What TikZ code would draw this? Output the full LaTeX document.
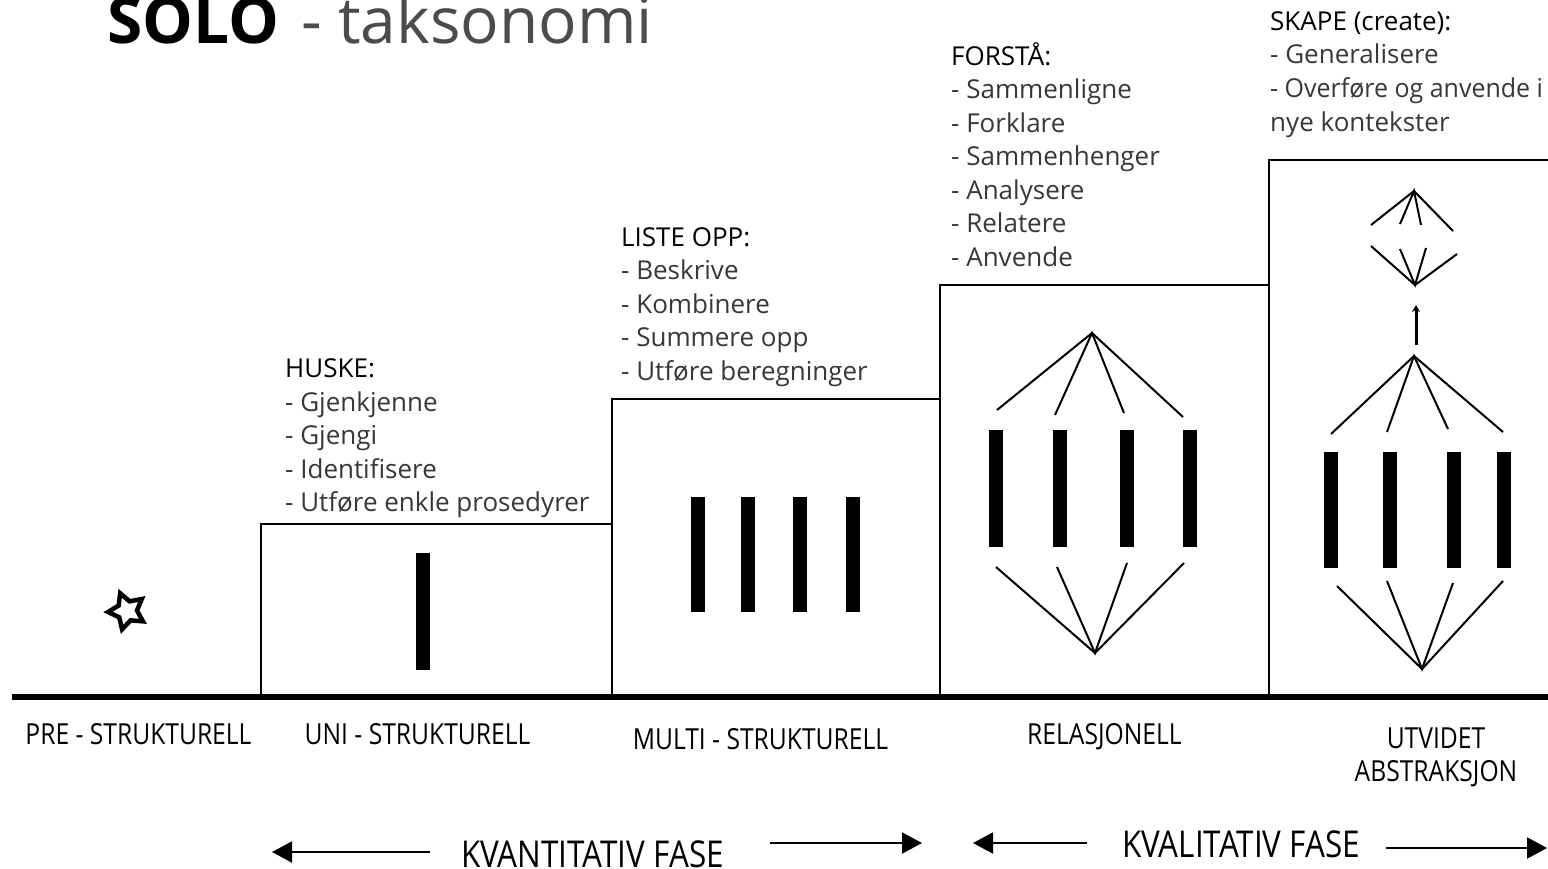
\documentclass[tikz,border=0pt]{standalone}
\usepackage{fontspec}
\setmainfont{Open Sans}
\newfontfamily\solocond[FakeStretch=0.85]{Open Sans}
\newfontfamily\soloslight[FakeStretch=0.96]{Open Sans}
\usetikzlibrary{arrows.meta,shapes.geometric}
\newcommand\soloitemfont{\fontsize{26}{31}\selectfont}
\newcommand\sololabfont{\solocond\fontsize{29}{33}\selectfont}
\newcommand\solofasefont{\solocond\fontsize{37}{42}\selectfont}
\tikzset{
  item/.style={anchor=base west, inner sep=0pt, font=\soloitemfont, text=black!78},
  head/.style={item, text=black},
  lab/.style={anchor=base, inner sep=0pt, font=\sololabfont, text=black},
  fase/.style={anchor=base, inner sep=0pt, font=\solofasefont, text=black},
  boxline/.style={line width=2pt, line join=miter},
  bar/.style={fill=black},
  conn/.style={line width=2pt},
  fasearrow/.style={line width=2pt, -{Triangle[length=20pt,width=21pt]}}
}
\begin{document}
\begin{tikzpicture}[x=1pt,y=-1pt]
\useasboundingbox (0,0) rectangle (1548,868);
\clip (0,0) rectangle (1548,868);
\fill[white] (0,0) rectangle (1548,868);

% title
\node[anchor=base west, inner sep=0pt, font=\fontsize{64}{70}\selectfont\bfseries] (solo) at (107,43) {SOLO};
\node[anchor=base west, inner sep=0pt, font=\fontsize{64}{70}\selectfont, text=black!70] (tak) at (301,43) {- taksonomi};

% boxes
\draw[boxline] (261,697) -- (261,524) -- (612,524) -- (612,697);
\draw[boxline] (612,524) -- (612,399) -- (940,399) -- (940,697);
\draw[boxline] (940,399) -- (940,285) -- (1269,285) -- (1269,697);
\draw[boxline] (1269,285) -- (1269,160) -- (1560,160);
\draw[line width=6pt] (12,697) -- (1560,697);

% pre-structural star
\node[star, star points=5, star point ratio=1.9, draw, line width=4.5pt, minimum size=38pt, inner sep=0pt, rotate=21] (star) at (127,611) {};

% uni-structural bar
\fill[bar] (416,553) rectangle (430,670);

% multi-structural bars
\foreach \a in {691,741,793,846}
  \fill[bar] (\a,497) rectangle ++(14,115);

% relational
\foreach \a in {989,1053,1120,1183}
  \fill[bar] (\a,430) rectangle ++(14,117);
\coordinate (rtop) at (1092,333);
\coordinate (rbot) at (1095,653);
\draw[conn] (997,410) -- (rtop) -- (1183,417);
\draw[conn] (1055,415) -- (rtop) -- (1124,413);
\draw[conn] (996,567) -- (rbot) -- (1184,563);
\draw[conn] (1057,567) -- (rbot) -- (1127,563);

% extended abstract
\foreach \a in {1324,1383,1447,1497}
  \fill[bar] (\a,452) rectangle ++(14,116);
\coordinate (etop) at (1414,356);
\coordinate (ebot) at (1422,669);
\draw[conn] (1331,434) -- (etop) -- (1503,432);
\draw[conn] (1387,432) -- (etop) -- (1448,429);
\draw[conn] (1337,586) -- (ebot) -- (1503,581);
\draw[conn] (1387,581) -- (ebot) -- (1453,583);
\coordinate (earrA) at (1416,345);
\coordinate (earrB) at (1416,305);
\draw[line width=3pt, -{Stealth[length=7pt,width=8pt]}] (earrA) -- (earrB);
\coordinate (dtop) at (1414,191);
\coordinate (dbot) at (1415,285);
\draw[conn] (1371,225) -- (dtop) -- (1453,231);
\draw[conn] (1400,224) -- (dtop) -- (1421,225);
\draw[conn] (1371,246) -- (dbot) -- (1457,254);
\draw[conn] (1400,249) -- (dbot) -- (1426,248);

% HUSKE
\node[head] (h0) at (285,377) {HUSKE:};
\node[item] (h1) at (285,411) {- Gjenkjenne};
\node[item] (h2) at (285,444.5) {- Gjengi};
\node[item] (h3) at (285,478) {- Identifisere};
\node[item] (h4) at (285,511.5) {- Utføre enkle prosedyrer};

% LISTE OPP
\node[head] (l0) at (621,246) {LISTE OPP:};
\node[item] (l1) at (621,279.5) {- Beskrive};
\node[item] (l2) at (621,313) {- Kombinere};
\node[item] (l3) at (621,346.5) {- Summere opp};
\node[item] (l4) at (621,380) {- Utføre beregninger};

% FORSTÅ
\node[head] (f0) at (951,65) {FORSTÅ:};
\node[item] (f1) at (951,98.5) {- Sammenligne};
\node[item] (f2) at (951,132) {- Forklare};
\node[item] (f3) at (951,165.5) {- Sammenhenger};
\node[item] (f4) at (951,199) {- Analysere};
\node[item] (f5) at (951,232.5) {- Relatere};
\node[item] (f6) at (951,266) {- Anvende};

% SKAPE
\node[head] (s0) at (1270,30) {SKAPE (create):};
\node[item] (s1) at (1270,63) {- Generalisere};
\node[item, font=\soloslight\soloitemfont] (s2) at (1270,97) {- Overføre og anvende i};
\node[item] (s3) at (1270,131) {nye kontekster};

% level labels
\node[lab] (pre) at (138.5,744) {PRE - STRUKTURELL};
\node[lab] (uni) at (417.5,744) {UNI - STRUKTURELL};
\node[lab] (multi) at (760.5,749) {MULTI - STRUKTURELL};
\node[lab] (rel) at (1104.5,744) {RELASJONELL};
\node[lab] (utv) at (1436,748) {UTVIDET};
\node[lab] (abs) at (1436,781) {ABSTRAKSJON};

% phases
\node[fase] (kvant) at (592.5,867) {KVANTITATIV FASE};
\node[fase] (kval) at (1241,857) {KVALITATIV FASE};
\coordinate (qa1) at (430,852);
\coordinate (qa2) at (272,852);
\coordinate (qb1) at (770,843);
\coordinate (qb2) at (922,843);
\coordinate (la1) at (1087,843);
\coordinate (la2) at (973,843);
\coordinate (lb1) at (1386,848);
\coordinate (lb2) at (1547,848);
\draw[fasearrow] (qa1) -- (qa2);
\draw[fasearrow] (qb1) -- (qb2);
\draw[fasearrow] (la1) -- (la2);
\draw[fasearrow] (lb1) -- (lb2);
\end{tikzpicture}
\end{document}
